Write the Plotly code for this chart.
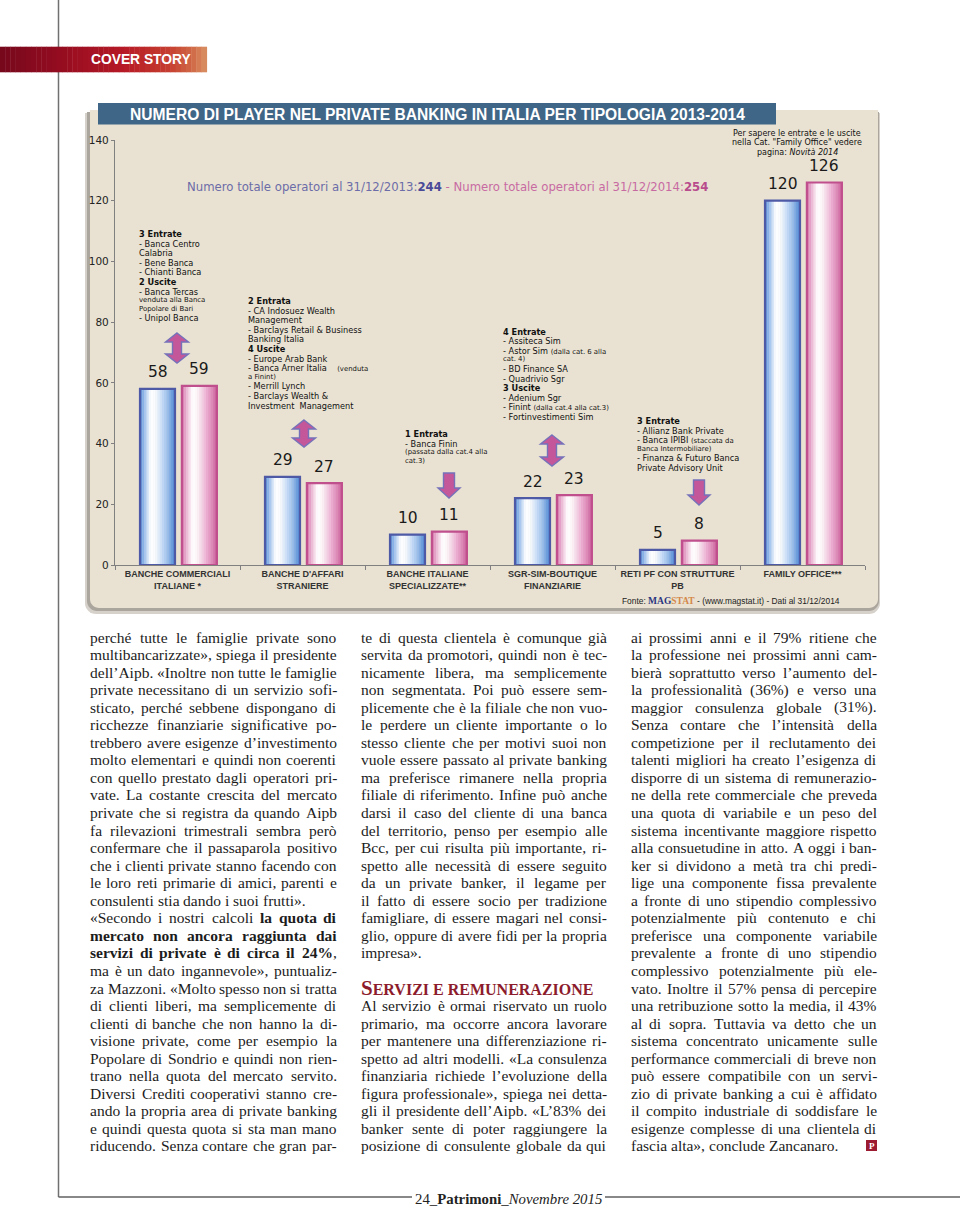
import math
import unicodedata
import plotly.graph_objects as go

W, H = 960, 1207

# ------------------------------------------------------------------ data
categories = ["BANCHE COMMERCIALI<br>ITALIANE *", "BANCHE D'AFFARI<br>STRANIERE",
              "BANCHE ITALIANE<br>SPECIALIZZATE**", "SGR-SIM-BOUTIQUE<br>FINANZIARIE",
              "RETI PF CON STRUTTURE<br>PB", "FAMILY OFFICE***"]
players_2013 = [58, 29, 10, 22, 5, 120]
players_2014 = [59, 27, 11, 23, 8, 126]
y_tick_values = [0, 20, 40, 60, 80, 100, 120, 140]
total_2013 = 244
total_2014 = 254
change_arrows = ["both", "both", "down", "both", "down", None]

notes_commerciali = ["*3 Entrate", "- Banca Centro", "Calabria", "- Bene Banca", "- Chianti Banca",
                     "*2 Uscite", "- Banca Tercas", "~venduta alla Banca", "~Popolare di Bari",
                     "- Unipol Banca"]
notes_affari = ["*2 Entrata", "- CA Indosuez Wealth", "Management", "- Barclays Retail & Business",
                "Banking Italia", "*4 Uscite", "- Europe Arab Bank",
                "- Banca Arner Italia\u00a0\u00a0\u00a0 [[(venduta]]", "~a Finint)", "- Merrill Lynch",
                "- Barclays Wealth &", "Investment\u00a0 Management"]
notes_specializzate = ["*1 Entrata", "- Banca Finin", "~(passata dalla cat.4 alla", "~cat.3)"]
notes_sgr = ["*4 Entrate", "- Assiteca Sim", "- Astor Sim [[(dalla cat. 6 alla]]", "~cat. 4)",
             "- BD Finance SA", "- Quadrivio Sgr", "*3 Uscite", "- Adenium Sgr",
             "- Finint [[(dalla cat.4 alla cat.3)]]", "- Fortinvestimenti Sim"]
notes_reti = ["*3 Entrate", "- Allianz Bank Private", "- Banca IPIBI [[(staccata da]]",
              "~Banca Intermobiliare)", "- Finanza & Futuro Banca", "Private Advisory Unit"]
note_family = ["Per sapere le entrate e le uscite", "nella Cat. \"Family Office\" vedere",
               "pagina: <i>Novità 2014</i>"]

col1_lines = [
    "perché tutte le famiglie private sono",
    "multibancarizzate», spiega il presidente",
    "dell’Aipb. «Inoltre non tutte le famiglie",
    "private necessitano di un servizio sofi-",
    "sticato, perché sebbene dispongano di",
    "ricchezze finanziarie significative po-",
    "trebbero avere esigenze d’investimento",
    "molto elementari e quindi non coerenti",
    "con quello prestato dagli operatori pri-",
    "vate. La costante crescita del mercato",
    "private che si registra da quando Aipb",
    "fa rilevazioni trimestrali sembra però",
    "confermare che il passaparola positivo",
    "che i clienti private stanno facendo con",
    "le loro reti primarie di amici, parenti e",
    "consulenti stia dando i suoi frutti».",
    "«Secondo i nostri calcoli **la quota di**",
    "**mercato non ancora raggiunta dai**",
    "**servizi di private è di circa il 24%**,",
    "ma è un dato ingannevole», puntualiz-",
    "za Mazzoni. «Molto spesso non si tratta",
    "di clienti liberi, ma semplicemente di",
    "clienti di banche che non hanno la di-",
    "visione private, come per esempio la",
    "Popolare di Sondrio e quindi non rien-",
    "trano nella quota del mercato servito.",
    "Diversi Crediti cooperativi stanno cre-",
    "ando la propria area di private banking",
    "e quindi questa quota si sta man mano",
    "riducendo. Senza contare che gran par-",
]
col2_lines = [
    "te di questa clientela è comunque già",
    "servita da promotori, quindi non è tec-",
    "nicamente libera, ma semplicemente",
    "non segmentata. Poi può essere sem-",
    "plicemente che è la filiale che non vuo-",
    "le perdere un cliente importante o lo",
    "stesso cliente che per motivi suoi non",
    "vuole essere passato al private banking",
    "ma preferisce rimanere nella propria",
    "filiale di riferimento. Infine può anche",
    "darsi il caso del cliente di una banca",
    "del territorio, penso per esempio alle",
    "Bcc, per cui risulta più importante, ri-",
    "spetto alle necessità di essere seguito",
    "da un private banker, il legame per",
    "il fatto di essere socio per tradizione",
    "famigliare, di essere magari nel consi-",
    "glio, oppure di avere fidi per la propria",
    "impresa».",
    "",
    "",
    "Al servizio è ormai riservato un ruolo",
    "primario, ma occorre ancora lavorare",
    "per mantenere una differenziazione ri-",
    "spetto ad altri modelli. «La consulenza",
    "finanziaria richiede l’evoluzione della",
    "figura professionale», spiega nei detta-",
    "gli il presidente dell’Aipb. «L’83% dei",
    "banker sente di poter raggiungere la",
    "posizione di consulente globale da qui",
]
col2_heading = "SERVIZI E REMUNERAZIONE"
col3_lines = [
    "ai prossimi anni e il 79% ritiene che",
    "la professione nei prossimi anni cam-",
    "bierà soprattutto verso l’aumento del-",
    "la professionalità (36%) e verso una",
    "maggior consulenza globale (31%).",
    "Senza contare che l’intensità della",
    "competizione per il reclutamento dei",
    "talenti migliori ha creato l’esigenza di",
    "disporre di un sistema di remunerazio-",
    "ne della rete commerciale che preveda",
    "una quota di variabile e un peso del",
    "sistema incentivante maggiore rispetto",
    "alla consuetudine in atto. A oggi i ban-",
    "ker si dividono a metà tra chi predi-",
    "lige una componente fissa prevalente",
    "a fronte di uno stipendio complessivo",
    "potenzialmente più contenuto e chi",
    "preferisce una componente variabile",
    "prevalente a fronte di uno stipendio",
    "complessivo potenzialmente più ele-",
    "vato. Inoltre il 57% pensa di percepire",
    "una retribuzione sotto la media, il 43%",
    "al di sopra. Tuttavia va detto che un",
    "sistema concentrato unicamente sulle",
    "performance commerciali di breve non",
    "può essere compatibile con un servi-",
    "zio di private banking a cui è affidato",
    "il compito industriale di soddisfare le",
    "esigenze complesse di una clientela di",
    "fascia alta», conclude Zancanaro.",
]
paragraph_ends = {(0, 15), (1, 18), (2, 29)}

# ------------------------------------------------------------------ helpers
ann, shp = [], []


def PX(x):
    return x / W


def PY(y):
    return 1 - y / H


def text(x, y, t, size, color="#1e1e1e", family="DejaVu Sans", xanchor="left",
         yanchor="middle", **kw):
    d = dict(x=PX(x), y=PY(y), xref="paper", yref="paper", text=t, showarrow=False,
             xanchor=xanchor, yanchor=yanchor, borderpad=0, borderwidth=0,
             font=dict(family=family, size=size, color=color))
    d.update(kw)
    ann.append(d)


def rect(x0, y0, x1, y1, color, layer="below"):
    shp.append(dict(type="rect", xref="paper", yref="paper", x0=PX(x0), x1=PX(x1),
                    y0=PY(y1), y1=PY(y0), fillcolor=color, line=dict(width=0), layer=layer))


def poly(pts, fill, line_color=None, lw=0, layer="above"):
    path = "M " + " L ".join(f"{PX(x):.5f},{PY(y):.5f}" for x, y in pts) + " Z"
    shp.append(dict(type="path", xref="paper", yref="paper", path=path, fillcolor=fill,
                    line=dict(color=line_color or fill, width=lw), layer=layer))


def line(x0, y0, x1, y1, color, width, layer="above"):
    shp.append(dict(type="line", xref="paper", yref="paper", x0=PX(x0), y0=PY(y0),
                    x1=PX(x1), y1=PY(y1), line=dict(color=color, width=width), layer=layer))


def rrect(x0, y0, x1, y1, rbr, rbl, n=8):
    pts = [(x0, y0), (x1, y0)]
    for j in range(n + 1):
        a = math.radians(90 * j / n)
        pts.append((x1 - rbr + rbr * math.cos(a), y1 - rbr + rbr * math.sin(a)))
    for j in range(n + 1):
        a = math.radians(90 + 90 * j / n)
        pts.append((x0 + rbl + rbl * math.cos(a), y1 - rbl + rbl * math.sin(a)))
    return pts


def grad(stops, t):
    for (t0, c0), (t1, c1) in zip(stops, stops[1:]):
        if t <= t1:
            f = (t - t0) / (t1 - t0) if t1 > t0 else 0
            return "rgb(%d,%d,%d)" % tuple(round(a + (b - a) * f) for a, b in zip(c0, c1))
    return "rgb(%d,%d,%d)" % stops[-1][1]


# ------------------------------------------------------------------ page decorations
line(58.5, 0, 58.5, 1197, "#707070", 1.5, layer="below")
line(58.5, 1197, 960, 1197, "#606060", 1.5, layer="below")

banner_stops = [(0.0, (118, 8, 28)), (0.3, (150, 12, 32)), (0.6, (182, 26, 38)),
                (0.82, (198, 62, 48)), (0.93, (208, 105, 70)), (1.0, (218, 145, 100))]
NB = 40
for k in range(NB):
    x0 = 206.7 * k / NB
    rect(x0, 46.7, x0 + 206.7 / NB + 0.4, 72.3, grad(banner_stops, (k + 0.5) / NB), layer="above")
text(141, 59.5, "<b>COVER STORY</b>", 13.8, color="white", family="Liberation Sans", xanchor="center")

# chart panel
poly(rrect(85, 113, 880, 614, 11, 11), "#d6d2cb", layer="below")
poly(rrect(87, 112, 879, 611, 10, 10), "#aaa59d", layer="below")
poly(rrect(90, 110, 878, 608, 9, 9), "#e9e2d2", layer="below")
rect(98, 103, 776, 124.5, "#3f6686", layer="below")
text(437, 114, "<b>NUMERO DI PLAYER NEL PRIVATE BANKING IN ITALIA PER TIPOLOGIA 2013-2014</b>",
     15.6, color="white", family="Liberation Sans", xanchor="center")

# totals headline
text(447, 186.7,
     "<span style='color:#6c6ca8'>Numero totale operatori al 31/12/2013:</span>"
     f"<span style='color:#4a4a98'><b>{total_2013}</b></span>"
     "<span style='color:#c86aa2'> - Numero totale operatori al 31/12/2014:</span>"
     f"<span style='color:#b84c8c'><b>{total_2014}</b></span>",
     11.7, xanchor="center")

# family office note
for i, s in enumerate(note_family):
    text(797, 133.3 + 9.6 * i, s, 8.0, xanchor="center", color="#111")

# change notes
SM = 6.9
NOTE_FS = 8.2
note_blocks = [(notes_commerciali, 139, 234), (notes_affari, 248, 301),
               (notes_specializzate, 405, 434), (notes_sgr, 503, 331.7), (notes_reti, 637, 421)]
for lines_, bx, by in note_blocks:
    y = by
    for j, s in enumerate(lines_):
        small_line = s.startswith("~")
        if j > 0:
            y += 8.5 if small_line else 9.6
        t = s.replace("&", "&amp;")
        if t.startswith("*"):
            t = "<b>" + t[1:] + "</b>"
        elif small_line:
            t = f"<span style='font-size:{SM}px'>" + t[1:] + "</span>"
        t = t.replace("[[", f"<span style='font-size:{SM}px'>").replace("]]", "</span>")
        text(bx, y, t, NOTE_FS, color="#111")

# arrows (decorative markers of change)
arrow_geom = [(177, 333, 363), (304, 420, 447), (449, 473, 498), (552, 435, 466), (699, 480, 505), None]
for kind, g in zip(change_arrows, arrow_geom):
    if kind is None:
        continue
    cx, yt, yb = g
    if kind == "both":
        hw, sw, hh = 11.5, 4.5, 9
        pts = [(cx, yt), (cx + hw, yt + hh), (cx + sw, yt + hh), (cx + sw, yb - hh), (cx + hw, yb - hh),
               (cx, yb), (cx - hw, yb - hh), (cx - sw, yb - hh), (cx - sw, yt + hh), (cx - hw, yt + hh)]
    else:
        hw, sw, hh = 11, 5.5, 10
        pts = [(cx - sw, yt), (cx + sw, yt), (cx + sw, yb - hh), (cx + hw, yb - hh), (cx, yb),
               (cx - hw, yb - hh), (cx - sw, yb - hh)]
    poly(pts, "#c4569a", "#7672ba", 1.4)

# source
text(730.5, 601,
     "Fonte: <span style='font-family:Liberation Serif;color:#2a3580;font-size:9.5px'><b>MAG</b></span>"
     "<span style='font-family:Liberation Serif;color:#d4884a;font-size:9.5px'><b>STAT</b></span>"
     " - (www.magstat.it) - Dati al 31/12/2014", 8.4, family="Liberation Sans", xanchor="center",
     color="#222")

# ------------------------------------------------------------------ bars
BW = 0.28
OFF13, OFF14 = -0.30, 0.035
NSTRIPE = 16
BLUE_STOPS = [(0.0, (88, 136, 212)), (0.12, (150, 188, 236)), (0.3, (255, 255, 255)),
              (0.45, (246, 249, 254)), (0.75, (165, 198, 238)), (1.0, (78, 134, 210))]
PINK_STOPS = [(0.0, (212, 118, 168)), (0.12, (232, 172, 206)), (0.3, (255, 255, 255)),
              (0.45, (251, 242, 247)), (0.75, (232, 162, 202)), (1.0, (204, 98, 156))]

fig = go.Figure()
for vals, off, stops, border, name in [(players_2013, OFF13, BLUE_STOPS, "#4f5aa6", "2013"),
                                       (players_2014, OFF14, PINK_STOPS, "#bf4f8d", "2014")]:
    for k in range(NSTRIPE):
        fig.add_trace(go.Bar(x=categories, y=vals, offset=off + k * BW / NSTRIPE,
                             width=BW / NSTRIPE * 1.15,
                             marker=dict(color=grad(stops, (k + 0.5) / NSTRIPE), line=dict(width=0)),
                             hoverinfo="skip", showlegend=False))
    fig.add_trace(go.Bar(x=categories, y=vals, offset=off, width=BW, name=name,
                         marker=dict(color="rgba(0,0,0,0)", line=dict(color=border, width=2.2)),
                         showlegend=False))
    for i, v in enumerate(vals):
        ann.append(dict(x=i + off + BW / 2, y=v, xref="x", yref="y", text=str(v), showarrow=False,
                        yshift=16.5, yanchor="middle",
                        font=dict(family="DejaVu Sans", size=15.5, color="#1a1a1a")))

# ------------------------------------------------------------------ body text (justified)
TR, TB = {}, {}
for ch, w in zip("abcdefghijklmnopqrstuvwxyz",
                 [444, 500, 444, 500, 444, 333, 500, 500, 278, 278, 500, 278, 778, 500, 500, 500, 500,
                  333, 389, 278, 500, 500, 722, 500, 500, 444]):
    TR[ch] = w
for ch, w in zip("ABCDEFGHIJKLMNOPQRSTUVWXYZ",
                 [722, 667, 667, 722, 611, 556, 722, 722, 333, 389, 722, 611, 889, 722, 722, 556, 722,
                  667, 556, 611, 722, 722, 944, 722, 722, 611]):
    TR[ch] = w
for ch, w in zip("abcdefghijklmnopqrstuvwxyz",
                 [500, 556, 444, 556, 444, 333, 500, 556, 278, 333, 556, 278, 833, 556, 500, 556, 556,
                  444, 389, 333, 556, 500, 722, 500, 500, 444]):
    TB[ch] = w
for ch, w in zip("ABCDEFGHIJKLMNOPQRSTUVWXYZ",
                 [722, 667, 722, 722, 667, 611, 778, 778, 389, 500, 778, 667, 944, 722, 778, 611, 778,
                  722, 556, 667, 722, 722, 1000, 722, 722, 667]):
    TB[ch] = w
PUNCT = {",": 250, ".": 250, "-": 333, "«": 500, "»": 500, "’": 333, "(": 333, ")": 333,
         "%": 833, ":": 278, ";": 278}
for d in "0123456789":
    PUNCT[d] = 500


def cw(c, bold):
    base = unicodedata.normalize("NFD", c)[0]
    t = TB if bold else TR
    if base in t:
        return t[base]
    if bold and base == "%":
        return 1000
    return PUNCT.get(base, 500)


def parse(s):
    bold, words, cur, i = False, [], [], 0
    while i < len(s):
        if s.startswith("**", i):
            bold = not bold
            i += 2
            continue
        c = s[i]
        if c == " ":
            if cur:
                words.append(cur)
                cur = []
        else:
            cur.append((c, bold))
        i += 1
    if cur:
        words.append(cur)
    return words


def word_html(w):
    out, run, rb = "", "", None
    for c, b in w:
        if rb is None or b == rb:
            run += c
        else:
            out += f"<b>{run}</b>" if rb else run
            run = c
        rb = b
    out += f"<b>{run}</b>" if rb else run
    return out


BODY_FS = 15.5
BODY_COLOR = "#1c1c1c"
LINE0, PITCH = 637, 17.55
col_x = [(90, 336.5), (361, 607), (631, 877)]
for ci, lines_ in enumerate([col1_lines, col2_lines, col3_lines]):
    x0, x1 = col_x[ci]
    for li, s in enumerate(lines_):
        if not s:
            continue
        y = LINE0 + PITCH * li
        words = parse(s)
        widths = [sum(cw(c, b) for c, b in w) * BODY_FS / 1000 for w in words]
        justify = (ci, li) not in paragraph_ends and len(words) > 1
        gap = (x1 - x0 - sum(widths)) / (len(words) - 1) if justify else 250 * BODY_FS / 1000
        xx = x0
        for k, (w, wd) in enumerate(zip(words, widths)):
            if justify and k == len(words) - 1:
                text(x1, y, word_html(w), BODY_FS, color=BODY_COLOR, family="Liberation Serif",
                     xanchor="right")
            else:
                text(xx, y, word_html(w), BODY_FS, color=BODY_COLOR, family="Liberation Serif")
            xx += wd + gap

# section heading
text(361, LINE0 + PITCH * 20,
     "<b>" + col2_heading[0] + f"<span style='font-size:16px'>{col2_heading[1:]}</span></b>",
     21, color="#8c1c2c", family="Liberation Serif")

# end-of-article mark
rect(866, 1140, 877, 1151, "#9c1b31", layer="above")
text(871.5, 1145.8, "<b>P</b>", 9, color="white", family="Liberation Serif", xanchor="center")

# folio
text(508, 1199, "24_<b>Patrimoni</b>_<i>Novembre 2015</i>", 14.8, color="#222",
     family="Liberation Serif", xanchor="center", bgcolor="white", borderpad=3)

# ------------------------------------------------------------------ layout
fig.update_layout(
    width=W, height=H, margin=dict(l=0, r=0, t=0, b=0), autosize=False,
    paper_bgcolor="white", plot_bgcolor="rgba(0,0,0,0)", barmode="overlay", showlegend=False,
    xaxis=dict(type="category", categoryorder="array", categoryarray=categories, range=[-0.5, 5.5],
               domain=[PX(115), PX(865)], tickson="boundaries", ticks="outside", ticklen=4,
               tickcolor="#808080", showline=True, linecolor="#808080", linewidth=1.2,
               showgrid=False, zeroline=False, fixedrange=True, tickangle=0, automargin=False,
               tickfont=dict(family="Liberation Sans", size=9, color="#333", weight="bold")),
    yaxis=dict(range=[0, 140], domain=[PY(565), PY(140)], tickmode="array", tickvals=y_tick_values,
               ticks="outside", ticklen=3, tickcolor="#808080", showline=True, linecolor="#808080",
               linewidth=1.2, showgrid=False, zeroline=False, fixedrange=True, automargin=False,
               tickfont=dict(family="DejaVu Sans", size=10.5, color="#222")),
    annotations=ann, shapes=shp,
)

fig.write_html("out.html", config={"displayModeBar": False},
               post_script="document.body.style.margin='0';document.body.style.overflow='hidden';")
